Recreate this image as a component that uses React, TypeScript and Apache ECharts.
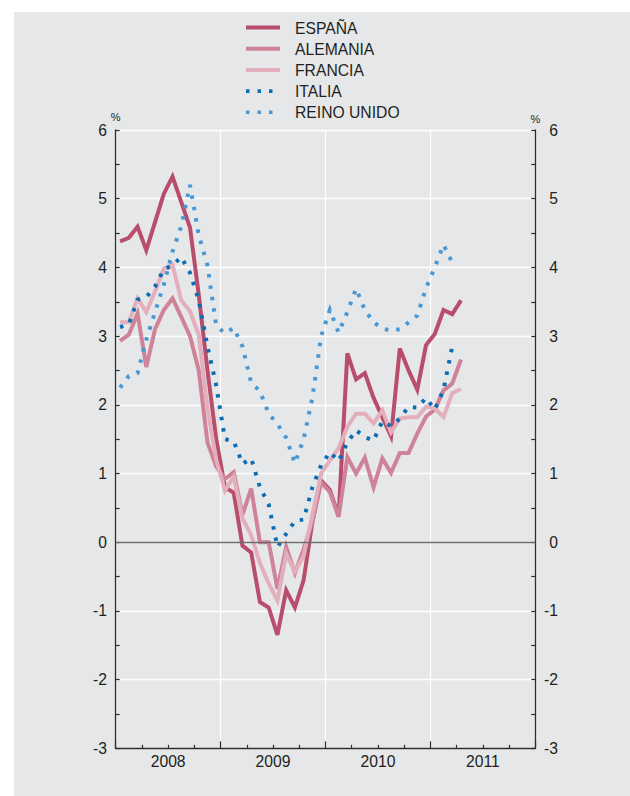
import React, { useEffect, useRef } from "react";
import * as echarts from "echarts";

// Monthly year-on-year rates, Jan 2008 onwards (index 0 = Jan 2008)
const seriesNames = ["ESPAÑA", "ALEMANIA", "FRANCIA", "ITALIA", "REINO UNIDO"];
const yearLabels = ["2008", "2009", "2010", "2011"];
const yearLabelPositions = [6, 18, 30, 42];

const espana = [4.38, 4.43, 4.59, 4.25, 4.66, 5.07, 5.32, 4.95, 4.58, 3.6, 2.5, 1.5, 0.8, 0.72, -0.05, -0.15, -0.87, -0.95, -1.35, -0.7, -0.95, -0.55, 0.3, 0.9, 0.76, 0.38, 2.75, 2.37, 2.46, 2.1, 1.82, 1.54, 2.82, 2.5, 2.22, 2.87, 3.03, 3.38, 3.32, 3.52];
const alemania = [2.93, 3.02, 3.33, 2.55, 3.1, 3.38, 3.55, 3.28, 3.0, 2.5, 1.45, 1.1, 0.92, 1.02, 0.4, 0.78, 0.0, 0.0, -0.68, -0.07, -0.45, -0.1, 0.3, 0.87, 0.73, 0.37, 1.24, 1.0, 1.23, 0.8, 1.22, 1.01, 1.3, 1.3, 1.58, 1.83, 1.93, 2.21, 2.31, 2.66];
const francia = [3.2, 3.2, 3.55, 3.35, 3.65, 3.98, 4.04, 3.52, 3.36, 3.02, 1.95, 1.2, 0.75, 0.95, 0.35, 0.1, -0.3, -0.6, -0.85, -0.17, -0.43, -0.2, 0.4, 1.0, 1.19, 1.37, 1.68, 1.87, 1.87, 1.73, 1.92, 1.6, 1.8, 1.82, 1.82, 1.97, 1.95, 1.82, 2.17, 2.23];
const italia = [3.13, 3.17, 3.53, 3.57, 3.72, 3.97, 4.03, 4.15, 3.92, 3.52, 2.85, 2.28, 1.5, 1.47, 1.14, 1.22, 0.8, 0.55, -0.07, 0.12, 0.31, 0.33, 0.8, 1.12, 1.31, 1.18, 1.45, 1.63, 1.53, 1.48, 1.76, 1.69, 1.8, 1.97, 1.96, 2.1, 1.93, 2.22, 2.85];
const reinoUnido = [2.25, 2.42, 2.46, 2.95, 3.35, 3.75, 4.23, 4.6, 5.2, 4.47, 4.03, 3.15, 3.04, 3.12, 2.85, 2.32, 2.2, 1.87, 1.72, 1.52, 1.15, 1.5, 2.1, 3.0, 3.38, 3.05, 3.35, 3.69, 3.38, 3.2, 3.11, 3.08, 3.1, 3.2, 3.3, 3.7, 4.0, 4.33, 4.07];

const colors = ["#b84d6c", "#cf8399", "#e4afbc", "#0b6db3", "#4a98d3"];
const FONT = "'Liberation Sans', Arial, Helvetica, sans-serif";
const TEXT = "#231f20";
const AXIS = "#2e2e2e";
const DOT_DASH = [3.5, 8];

const toPoints = (arr: number[]) => arr.map((v, i) => [i + 0.5, v]);

export default function App() {
  const ref = useRef<HTMLDivElement>(null);
  useEffect(() => {
    if (!ref.current) return;
    const chart = echarts.init(ref.current, null, { renderer: "svg" });
    const solid = (c: string) => ({ color: c, width: 4, type: "solid" as const, join: "miter" as const });
    const dotted = (c: string) => ({ color: c, width: 4, type: DOT_DASH, cap: "butt" as const, join: "miter" as const });
    const datasets = [espana, alemania, francia, italia, reinoUnido];
    const yAxisCommon = {
      type: "value",
      min: -3,
      max: 6,
      interval: 1,
      name: "%",
      nameLocation: "end",
      nameGap: 6,
      nameTextStyle: { fontSize: 11, color: TEXT, fontFamily: FONT, align: "center" },
      axisLine: { show: true, onZero: false, lineStyle: { color: AXIS, width: 1.3 } },
      axisTick: { show: true, inside: true, length: 4, lineStyle: { color: AXIS, width: 1.2 } },
      minorTick: { show: true, splitNumber: 2, length: 4, lineStyle: { color: AXIS, width: 1.2 } },
    };
    const legendItems: any[] = [];
    seriesNames.forEach((name, k) => {
      const cy = 27.5 + k * 21.2;
      legendItems.push({
        type: "line",
        shape: { x1: 246, y1: cy, x2: 280, y2: cy },
        style: {
          stroke: colors[k],
          lineWidth: k < 3 ? 4 : 3.6,
          lineDash: k < 3 ? null : DOT_DASH,
          lineCap: "butt",
        },
        silent: true,
      });
      legendItems.push({
        type: "text",
        x: 295,
        y: cy + 0.5,
        style: {
          text: name,
          fill: TEXT,
          font: `15.7px ${FONT}`,
          textAlign: "left",
          textVerticalAlign: "middle",
        },
        silent: true,
      });
    });
    chart.setOption({
      animation: false,
      backgroundColor: "transparent",
      textStyle: { fontFamily: FONT },
      grid: { left: 115.7, right: 94.7, top: 130, bottom: 47.7, containLabel: false },
      graphic: legendItems,
      xAxis: {
        type: "value",
        min: 0,
        max: 48,
        interval: 12,
        axisLine: { show: true, onZero: false, lineStyle: { color: AXIS, width: 1.3 } },
        axisTick: { show: true, inside: true, length: 7, lineStyle: { color: AXIS, width: 1.2 } },
        minorTick: { show: true, splitNumber: 4, length: 3.5, lineStyle: { color: AXIS, width: 1.2 } },
        axisLabel: {
          customValues: yearLabelPositions,
          formatter: (v: number) => yearLabels[Math.round((v - 6) / 12)] ?? "",
          margin: 5,
          fontSize: 15.7,
          color: TEXT,
          fontFamily: FONT,
        },
        splitLine: { show: true, lineStyle: { color: "#ffffff", width: 1.3 } },
      },
      yAxis: [
        {
          ...yAxisCommon,
          position: "left",
          axisLabel: { margin: 8.7, fontSize: 15.7, color: TEXT, fontFamily: FONT },
          splitLine: { show: true, lineStyle: { color: "#ffffff", width: 1.3 } },
        },
        {
          ...yAxisCommon,
          position: "right",
          axisLabel: { margin: 22.7, align: "right", fontSize: 15.7, color: TEXT, fontFamily: FONT },
          splitLine: { show: false },
        },
      ],
      series: datasets.map((arr, k) => ({
        name: seriesNames[k],
        type: "line",
        yAxisIndex: 0,
        symbol: "none",
        showSymbol: false,
        smooth: false,
        color: colors[k],
        lineStyle: k < 3 ? solid(colors[k]) : dotted(colors[k]),
        data: toPoints(arr),
        markLine:
          k === 0
            ? {
                silent: true,
                symbol: ["none", "none"],
                label: { show: false },
                lineStyle: { color: "#6d6e70", width: 1.3, type: "solid" },
                data: [{ yAxis: 0 }],
              }
            : undefined,
      })),
    });
    return () => chart.dispose();
  }, []);
  return (
    <div style={{ position: "fixed", left: 0, top: 0, width: 630, height: 796, background: "#ffffff" }}>
      <div style={{ position: "absolute", left: 14, top: 12, width: 616, height: 784, background: "#e6e7e8" }} />
      <div ref={ref} style={{ position: "absolute", left: 0, top: 0, width: 630, height: 796 }} />
    </div>
  );
}
